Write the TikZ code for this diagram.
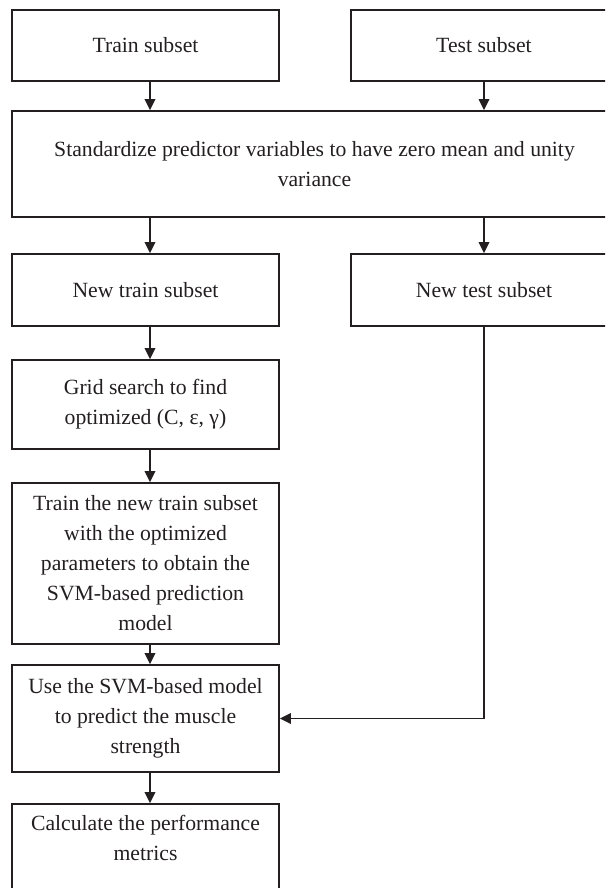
\documentclass[tikz,border=0pt]{standalone}
\usepackage{fontspec}
\setmainfont{Liberation Serif}
\usetikzlibrary{arrows.meta}
\definecolor{ink}{HTML}{231F20}
\begin{document}
\begin{tikzpicture}[x=1pt,y=-1pt,
  box/.style={draw=ink, line width=1.8pt, align=center, inner sep=0pt,
    font=\fontsize{21.7}{30}\selectfont, text=ink},
  lbox/.style={box, minimum width=267pt},
  rbox/.style={box, minimum width=266pt},
  arr/.style={draw=ink, line width=1.8pt, -{Triangle[length=11pt,width=10.5pt]}}]
\useasboundingbox (0,0) rectangle (605,888);
\clip (0,0) rectangle (605,888);
\coordinate (lx) at (150,0);
\node[lbox, minimum height=71pt] (train) at (145.5,45.5) {Train subset};
\node[rbox, minimum height=71pt] (test) at (484,45.5) {Test subset};
\node[box, minimum width=605pt, minimum height=106pt] (std) at (314.5,164)
  {Standardize predictor variables to have zero mean and unity\\variance};
\node[lbox, minimum height=72pt] (newtrain) at (145.5,290) {New train subset};
\node[rbox, minimum height=72pt] (newtest) at (484,290) {New test subset};
\node[lbox, minimum height=89pt] (grid) at (145.5,404.5)
  {Grid search to find\\optimized (C, ε, γ)};
\node[lbox, minimum height=161pt] (trainm) at (145.5,563.5)
  {Train the new train subset\\with the optimized\\parameters to obtain the\\SVM-based prediction\\model};
\node[lbox, minimum height=107pt] (use) at (145.5,718.5)
  {Use the SVM-based model\\to predict the muscle\\strength};
\node[lbox, minimum height=106pt] (calc) at (145.5,857)
  {Calculate the performance\\metrics\\\strut};
\draw[arr] (train.south -| lx) -- (std.north -| lx);
\draw[arr] (test.south) -- (std.north -| test.south);
\draw[arr] (std.south -| lx) -- (newtrain.north -| lx);
\draw[arr] (std.south -| newtest.north) -- (newtest.north);
\draw[arr] (newtrain.south -| lx) -- (grid.north -| lx);
\draw[arr] (grid.south -| lx) -- (trainm.north -| lx);
\draw[arr] (trainm.south -| lx) -- (use.north -| lx);
\draw[arr] (use.south -| lx) -- (calc.north -| lx);
\draw[arr] (newtest.south) |- (use.east);
\end{tikzpicture}
\end{document}
